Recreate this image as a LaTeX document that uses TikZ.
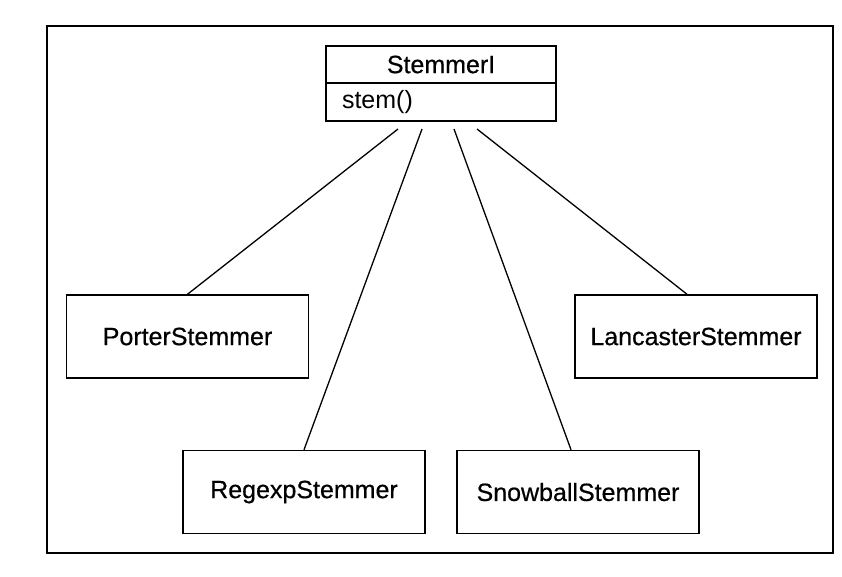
\documentclass[tikz,border=0pt]{standalone}
\usepackage{fontspec}
\setmainfont{Liberation Sans}
\newfontfamily\medfont{Liberation Sans}[FakeBold=0.5]
\begin{document}
\begin{tikzpicture}[x=1pt,y=-1pt,
  lbl/.style={font=\fontsize{25}{30}\selectfont},
  mlbl/.style={font=\medfont\fontsize{25}{30}\selectfont},
  cls/.style={draw, line width=1.5pt, minimum width=242pt, minimum height=83pt, inner sep=0pt, mlbl},
  link/.style={line width=1.3pt}]
\useasboundingbox (0,0) rectangle (842,576);
\draw[line width=2.2pt] (47,26) rectangle (833,553);

\node[draw, line width=1.6pt, minimum width=230pt, minimum height=37pt, inner sep=0pt, mlbl] (head) at (441,64.5) {StemmerI};
\node[draw, line width=1.6pt, minimum width=230pt, minimum height=38pt, inner ysep=0pt, inner xsep=16pt, text width=198pt, align=left, lbl] (body) at (441,102) {stem()};

\node[cls] (porter) at (187.5,336.5) {PorterStemmer};
\node[cls] (lancaster) at (696,336.5) {LancasterStemmer};
\node[cls] (regexp) at (304,492) {RegexpStemmer};
\node[cls] (snowball) at (578,492) {SnowballStemmer};

\coordinate (s1) at (398,129);
\coordinate (s2) at (422,129);
\coordinate (s3) at (454,129);
\coordinate (s4) at (477,129);

\draw[link] (s1) -- (porter.north);
\draw[link] (s2) -- (regexp.north);
\draw[link] (s3) -- ([xshift=-7pt]snowball.north);
\draw[link] (s4) -- ([xshift=-9pt]lancaster.north);
\end{tikzpicture}
\end{document}
